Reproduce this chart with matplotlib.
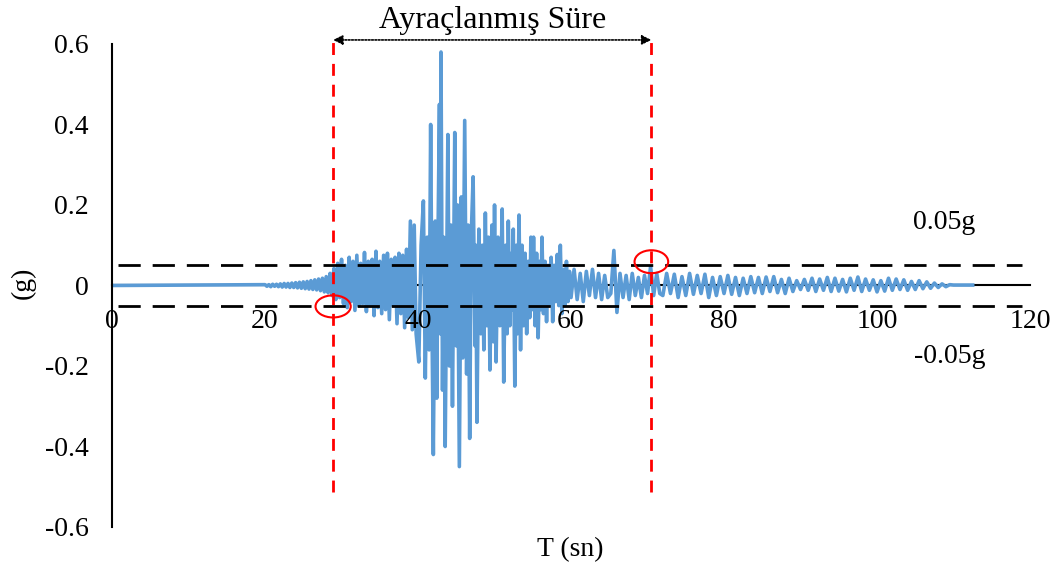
import numpy as np
import matplotlib.pyplot as plt
from matplotlib.patches import Ellipse

plt.rcParams['font.family'] = ['Liberation Serif', 'DejaVu Serif']

# acceleration record (g)
# part 1: build-up, regular 0.25 s steps from 20 s
t1_start, t1_step = 20.0, 0.25
acc1 = [0.002, -0.002, 0.002, -0.003, 0.003, -0.002, 0.003, -0.003,
        0.004, -0.004, 0.005, -0.004, 0.005, -0.005, 0.006, -0.005,
        0.007, -0.006, 0.008, -0.007, 0.009, -0.008, 0.010, -0.009,
        0.012, -0.010, 0.014, -0.011, 0.016, -0.013, 0.018, -0.016,
        0.022, -0.018, 0.030, -0.025, 0.042, -0.035, 0.055, -0.030,
        0.065, -0.045, 0.050, -0.055, 0.070, -0.040, 0.060, -0.062,
        0.075, -0.050, 0.055, -0.045, 0.082, -0.065, 0.060, -0.050,
        0.065, -0.075, 0.085, -0.055, 0.060, -0.070, 0.075, -0.060,
        0.080, -0.085, 0.065, -0.050, 0.070, -0.095, 0.080, -0.070,
        0.075, -0.105, 0.090, -0.080, 0.160, -0.110, 0.150, -0.120]

# part 2: strong motion, peak times read individually
t2 = [40.10, 40.40, 40.70, 40.95, 41.20, 41.45, 41.65, 41.85, 42.00, 42.25,
      42.45, 42.60, 42.80, 42.90, 43.00, 43.20, 43.35, 43.55, 43.90, 44.10,
      44.30, 44.50, 44.80, 45.00, 45.15, 45.40, 45.65, 45.85, 46.10, 46.35,
      46.55, 46.75, 46.95, 47.20, 47.45, 47.55, 47.70, 47.95, 48.20, 48.40,
      48.60, 48.80, 49.00, 49.20, 49.40, 49.65, 49.85, 50.00, 50.20, 50.45,
      50.70, 51.00, 51.20, 51.45, 51.65, 51.80, 52.00, 52.20, 52.35, 52.45,
      52.65, 52.85, 53.00, 53.20, 53.40, 53.60, 53.80, 54.00, 54.20, 54.40,
      54.60, 54.75, 54.95, 55.10, 55.30, 55.50, 55.70, 55.90, 56.05, 56.20,
      56.40, 56.60, 56.80, 57.00, 57.20, 57.40, 57.60, 57.80, 58.00, 58.20,
      58.40, 58.60, 58.80, 59.00, 59.20, 59.40, 59.60, 59.80]
acc2 = [-0.19, 0.10, 0.21, -0.23, 0.12, -0.16, 0.40, -0.15, -0.42, 0.16,
        -0.28, 0.10, 0.45, -0.12, 0.58, -0.26, 0.12, -0.40, 0.375, -0.20,
        0.15, -0.30, 0.38, -0.15, 0.20, -0.45, 0.22, -0.18, 0.41, -0.22,
        0.15, -0.38, 0.12, 0.27, -0.15, 0.10, -0.34, 0.14, -0.12, 0.10,
        -0.16, 0.18, -0.10, 0.12, -0.21, 0.15, -0.14, 0.20, -0.19, 0.12,
        -0.10, 0.19, -0.24, 0.10, -0.12, 0.16, -0.10, 0.08, -0.06, 0.14,
        -0.25, 0.10, -0.12, 0.175, -0.16, 0.10, -0.10, 0.08, -0.12, 0.06,
        -0.08, 0.12, -0.06, 0.12, -0.10, 0.08, -0.13, 0.06, -0.06, 0.12,
        -0.07, 0.06, -0.09, 0.05, -0.05, 0.07, -0.09, 0.05, -0.04, 0.077,
        -0.05, 0.10, -0.07, 0.04, -0.05, 0.06, -0.04, 0.035]

# part 3: decay, 0.4 s steps from 60 s
t3_start, t3_step = 60.0, 0.4
acc3 = [-0.03, 0.04, -0.035, 0.03, -0.04, 0.035, -0.025, 0.04, -0.03, 0.03,
        -0.035, 0.025, -0.03, -0.02, 0.087, -0.067, 0.03, -0.03, 0.025, -0.035,
        0.03, -0.025, 0.02, -0.03, 0.025, -0.02, 0.047, -0.025, 0.03, -0.02]

# part 4: coda, 0.5 s steps from 72 s
t4_start, t4_step = 72.0, 0.5
acc4 = [-0.025, 0.03, -0.02, 0.028, -0.03, 0.022, -0.025, 0.03, -0.022, 0.025,
        -0.02, 0.028, -0.03, 0.02, -0.025, 0.022, -0.02, 0.025, -0.022, 0.02,
        -0.025, 0.018, -0.02, 0.022, -0.018, 0.02, -0.02, 0.021, -0.015, 0.022,
        -0.018, 0.015, -0.02, 0.018, -0.015, 0.012, -0.01, 0.015, -0.012, 0.018,
        -0.015, 0.016, -0.012, 0.02, -0.015, 0.018, -0.014, 0.015, -0.016, 0.018,
        -0.012, 0.021, -0.015, 0.016, -0.012, 0.014, -0.016, 0.012, -0.014, 0.018,
        -0.012, 0.016, -0.01, 0.014, -0.012, 0.01, -0.01, 0.012, -0.008, 0.009,
        -0.007, 0.006, -0.005, 0.004, -0.003, 0.002, 0.001, 0.001, 0.001, 0.001,
        0.001]
t_end, acc_end = 112.5, 0.001

t = np.concatenate([[0.0],
                    t1_start + t1_step * np.arange(len(acc1)),
                    t2,
                    t3_start + t3_step * np.arange(len(acc3)),
                    t4_start + t4_step * np.arange(len(acc4)),
                    [t_end]])
acc = np.concatenate([[0.0], acc1, acc2, acc3, acc4, [acc_end]])

# bracketed duration limits and threshold
t_first, t_last = 28.9, 70.5
threshold = 0.05

xticks = [0, 20, 40, 60, 80, 100, 120]
yticks = [-0.6, -0.4, -0.2, 0, 0.2, 0.4, 0.6]
ytick_labels = ['-0.6', '-0.4', '-0.2', '0', '0.2', '0.4', '0.6']

fig = plt.figure(figsize=(10.62, 5.71), dpi=100)
ax = fig.add_axes([0.1055, 0.0771, 0.8644, 0.8459])

ax.plot(t, acc, color='#5B9BD5', lw=2.6, zorder=2)

for yv in (threshold, -threshold):
    ax.plot([0.8, 119.0], [yv, yv], color='black', lw=2.0,
            dashes=(8, 4.3), zorder=3)

for xv in (t_first, t_last):
    ax.plot([xv, xv], [-0.514, 0.612], color='red', lw=2.0,
            dashes=(4.3, 3.2), zorder=4, clip_on=False)

ax.add_patch(Ellipse((t_first, -0.052), 4.6, 0.055, fill=False,
                     edgecolor='red', lw=1.5, zorder=5))
ax.add_patch(Ellipse((t_last, 0.059), 4.4, 0.057, fill=False,
                     edgecolor='red', lw=1.5, zorder=5))

ax.annotate('', xy=(t_last, 0.61), xytext=(t_first, 0.61),
            arrowprops=dict(arrowstyle='<|-|>', color='black', lw=1.2,
                            ls=(0, (1, 1)), mutation_scale=14,
                            shrinkA=0, shrinkB=0),
            annotation_clip=False)
ax.text((t_first + t_last) / 2, 0.64, 'Ayraçlanmış Süre', ha='center',
        va='baseline', fontsize=23)

ax.text(108.8, 0.157, '0.05g', ha='center', va='center', fontsize=20)
ax.text(109.5, -0.176, '-0.05g', ha='center', va='center', fontsize=20)

ax.set_xlim(0, 120)
ax.set_ylim(-0.6, 0.6)
ax.set_xticks(xticks)
ax.set_xticklabels([str(v) for v in xticks])
ax.set_yticks(yticks)
ax.set_yticklabels(ytick_labels)
ax.tick_params(axis='both', length=0, labelsize=20)
ax.tick_params(axis='x', pad=17)
ax.tick_params(axis='y', pad=17)
ax.set_axisbelow(False)

for s in ('top', 'right'):
    ax.spines[s].set_visible(False)
ax.spines['bottom'].set_position(('data', 0))
ax.spines['bottom'].set_linewidth(1.5)
ax.spines['bottom'].set_zorder(1)
ax.spines['left'].set_linewidth(1.5)
ax.spines['left'].set_zorder(6)
ax.xaxis.set_zorder(6)

fig.text(23 / 1062, 1 - 283 / 571, '(g)', rotation=90, ha='center',
         va='center', fontsize=20)
fig.text(570 / 1062, 1 - 550 / 571, 'T (sn)', ha='center', va='center',
         fontsize=20)

fig.savefig('out.png', dpi=100)
